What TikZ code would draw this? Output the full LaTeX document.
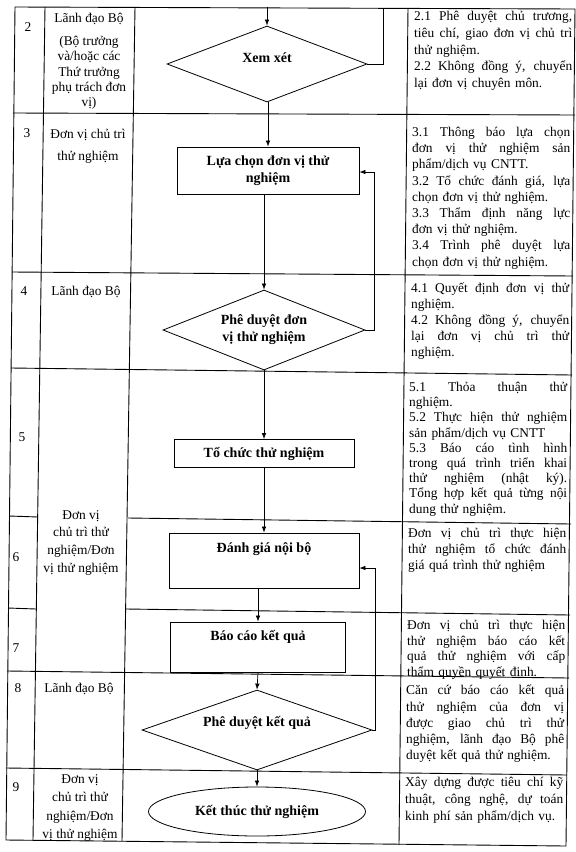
\documentclass[tikz,border=0pt]{standalone}
\usepackage{fontspec}
\setmainfont{Liberation Serif}
\usetikzlibrary{shapes.geometric,arrows.meta,positioning}

\setlength{\parindent}{0pt}
\newcommand{\bodytext}[1][16.5]{\fontsize{13.4}{#1}\selectfont}
\newcommand{\flowtext}{\fontsize{14}{17}\selectfont\bfseries}
\newlength{\descw}
\setlength{\descw}{158pt}
% one justified line of the right-hand column
\newcommand{\jl}[1]{\leavevmode\hbox to \descw{\spaceskip=0.25em plus 4em\xspaceskip=0.3em plus 4em\relax #1}}

\begin{document}
\begin{tikzpicture}[x=1pt, y=-1pt,
    grid/.style={line width=0.9pt},
    stepbox/.style={draw, rectangle, line width=0.8pt, font=\flowtext, align=center, inner sep=4pt},
    decision/.style={draw, diamond, aspect=2.5, line width=0.8pt, font=\flowtext, align=center, inner sep=0pt},
    endnode/.style={draw, ellipse, line width=0.8pt, font=\flowtext, inner sep=0pt},
    arrow/.style={-{Latex[length=6pt,width=4.5pt]}, line width=0.7pt},
    link/.style={line width=0.7pt},
    num/.style={font=\bodytext, inner sep=0pt},
    role/.style={font=\bodytext, align=center, inner sep=0pt, anchor=north},
    desc/.style={font=\bodytext, align=left, inner sep=0pt, anchor=north west, text width=\descw}
]
\useasboundingbox (0,0) rectangle (576,852);

% table (the scan is a little skewed)
\draw[grid] (15,7) -- (575,9) -- (566,846) -- (6,840) -- cycle;
\draw[grid] (45,7) -- (33,840);
\draw[grid] (135,7) -- (122,841);
\draw[grid] (408,8) -- (399,845);
\draw[grid] (13,113) -- (575,115);
\draw[grid] (12,272) -- (573,276);
\draw[grid] (11,368) -- (572,375);
\draw[grid] (9,516) -- (38,517);
\draw[grid] (128,518) -- (571,524);
\draw[grid] (8,608) -- (36,609);
\draw[grid] (126,609) -- (570,615);
\draw[grid] (7,671) -- (569,678);
\draw[grid] (6,768) -- (567,775);

% step numbers
\node[num] (n2) at (28,27) {2};
\node[num] (n3) at (27,133) {3};
\node[num] (n4) at (24,291) {4};
\node[num] (n5) at (22,437) {5};
\node[num] (n6) at (16,557) {6};
\node[num] (n7) at (16,648) {7};
\node[num] (n8) at (18,688) {8};
\node[num] (n9) at (16,787) {9};

% who
\node[role, font={\bodytext[15.3]}] (r2) at (89,13) {Lãnh đạo Bộ\\[7.7pt](Bộ trưởng\\và/hoặc các\\Thứ trưởng\\phụ trách đơn\\vị)};
\node[role] (r3) at (88,129) {Đơn vị chủ trì\\[5.5pt]thử nghiệm};
\node[role] (r4) at (86,286) {Lãnh đạo Bộ};
\node[role, font={\bodytext[17.7]}] (r57) at (81,510) {Đơn vị\\chủ trì thử\\nghiệm/Đơn\\vị thử nghiệm};
\node[role] (r8) at (79,683) {Lãnh đạo Bộ};
\node[role, font={\bodytext[18.6]}] (r9) at (80,774) {Đơn vị\\chủ trì thử\\nghiệm/Đơn\\vị thử nghiệm};

% flow
\node[decision, minimum width=200pt, minimum height=76pt, text height=10pt, text depth=14pt] (d2) at (267,64) {Xem xét};
\node[stepbox, minimum width=182pt, minimum height=47pt] (b3) at (268,170.5) {Lựa chọn đơn vị thử\\nghiệm};
\node[decision, minimum width=202pt, minimum height=80pt] (d4) at (264,330) {Phê duyệt đơn\\vị thử nghiệm};
\node[stepbox, minimum width=180pt, minimum height=28pt] (b5) at (264,453.5) {Tổ chức thử nghiệm};
\node[stepbox, minimum width=190pt, text height=15pt, text depth=32pt] (b6) at (264,560.5) {Đánh giá nội bộ};
\node[stepbox, minimum width=175pt, text height=14pt, text depth=28pt] (b7) at (258,647) {Báo cáo kết quả};
\node[decision, minimum width=230pt, minimum height=80pt, text height=10pt, text depth=18pt] (d8) at (257,730) {Phê duyệt kết quả};
\node[endnode, minimum width=217pt, minimum height=49pt] (e9) at (257,811.5) {Kết thúc thử nghiệm};

\coordinate (from1) at (267,7);
\coordinate (back1) at (383,8);
\draw[arrow] (from1) -- (d2.north);
\draw[link] (d2.east) -| (back1);
\draw[arrow] (d2.south -| b3.north) -- (b3.north);
\draw[arrow] (b3.south -| d4.north) -- (d4.north);
\draw[arrow] (d4.east) -- ++(9,0) |- ([yshift=-1.5pt]b3.east);
\draw[arrow] (d4.south) -- (b5.north);
\draw[arrow] (b5.south) -- (b6.north);
\draw[arrow] (b6.south -| b7.north) -- (b7.north);
\draw[arrow] (b7.south) -- (d8.north);
\draw[arrow] (d8.east) -- ++(3,0) |- ([yshift=-7.5pt]b6.east);
\draw[arrow] (d8.south) -- (e9.north);

% what
\node[desc, font={\bodytext[16.8]}, text width=157pt] (t2) at (414,11) {\jl{2.1 Phê duyệt chủ trương,}\\
\jl{tiêu chí, giao đơn vị chủ trì}\\
thử nghiệm.\\
\jl{2.2 Không đồng ý, chuyển}\\
lại đơn vị chuyên môn.};
\node[desc, font={\bodytext[16.2]}] (t3) at (412,127) {\jl{3.1 Thông báo lựa chọn}\\
\jl{đơn vị thử nghiệm sản}\\
phẩm/dịch vụ CNTT.\\
\jl{3.2 Tổ chức đánh giá, lựa}\\
chọn đơn vị thử nghiệm.\\
\jl{3.3 Thẩm định năng lực}\\
đơn vị thử nghiệm.\\
\jl{3.4 Trình phê duyệt lựa}\\
chọn đơn vị thử nghiệm.};
\node[desc, font={\bodytext[16]}] (t4) at (411,283) {\jl{4.1 Quyết định đơn vị thử}\\
nghiệm.\\
\jl{4.2 Không đồng ý, chuyển}\\
\jl{lại đơn vị chủ trì thử}\\
nghiệm.};
\node[desc, font={\bodytext[15.2]}] (t5) at (409,382) {\jl{5.1 Thỏa thuận thử}\\
nghiệm.\\
\jl{5.2 Thực hiện thử nghiệm}\\
sản phẩm/dịch vụ CNTT\\
\jl{5.3 Báo cáo tình hình}\\
\jl{trong quá trình triển khai}\\
\jl{thử nghiệm (nhật ký).}\\
\jl{Tổng hợp kết quả từng nội}\\
dung thử nghiệm.};
\node[desc, font={\bodytext[16]}] (t6) at (408,528) {\jl{Đơn vị chủ trì thực hiện}\\
\jl{thử nghiệm tổ chức đánh}\\
giá quá trình thử nghiệm};
\node[desc, font={\bodytext[15.7]}] (t7) at (407,620) {\jl{Đơn vị chủ trì thực hiện}\\
\jl{thử nghiệm báo cáo kết}\\
\jl{quả thử nghiệm với cấp}\\
thẩm quyền quyết định.};
\node[desc, font={\bodytext[16.2]}] (t8) at (406,685) {\jl{Căn cứ báo cáo kết quả}\\
\jl{thử nghiệm của đơn vị}\\
\jl{được giao chủ trì thử}\\
\jl{nghiệm, lãnh đạo Bộ phê}\\
duyệt kết quả thử nghiệm.};
\node[desc, font={\bodytext[17]}] (t9) at (405,777) {\jl{Xây dựng được tiêu chí kỹ}\\
\jl{thuật, công nghệ, dự toán}\\
kinh phí sản phẩm/dịch vụ.};

\end{tikzpicture}
\end{document}
